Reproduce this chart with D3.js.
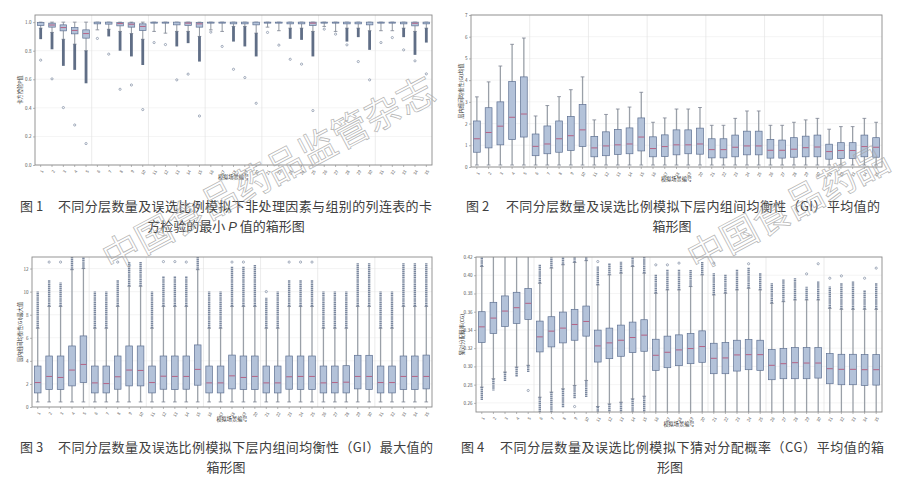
<!DOCTYPE html>
<html>
<head>
<meta charset="utf-8">
<script src="https://cdn.jsdelivr.net/npm/d3@7"></script>
<style>
  body { margin: 0; background: #fff; }
  svg { display: block; font-family: "Noto Sans CJK SC", "Noto Sans", sans-serif; }
</style>
</head>
<body>
<svg id="chart" width="918" height="486"></svg>
<script>
// scenario numbers on the x axis (7 stratification levels x 5 misselection ratios)
const scenarios = ['1','2','3','4','5','6','7','8','9','10','11','12','13','14','15','16','17','18',
  '19','20','21','22','23','24','25','26','27','28','29','30','31','32','33','34','35'];

// Fig 1: minimum P value of chi-square test
const p1Hi  = [1,1,1,1,1,1,1,1,1,1,1,1,1,1,1,1,1,1,1,1,1,1,1,1,1,1,1,1,1,1,1,1,1,1,1];
const p1Q3  = [0.997,0.993,0.981,0.963,0.946,1,1,0.998,0.995,0.988,1,1,1,1,0.998,1,1,1,1,1,1,1,1,1,1,1,1,1,1,1,1,1,1,1,1];
const p1Med = [0.99,0.98,0.962,0.942,0.92,0.996,0.995,0.99,0.985,0.97,0.997,0.997,0.995,0.993,0.988,0.998,0.997,0.996,0.996,0.993,
  0.998,0.998,0.996,0.996,0.993,0.998,0.998,0.996,0.996,0.995,0.998,0.998,0.996,0.992,0.996];
const p1Q1  = [0.977,0.965,0.939,0.918,0.888,0.988,0.986,0.974,0.965,0.941,0.993,0.993,0.981,0.977,0.965,0.993,0.993,0.988,0.988,0.981,
  0.993,0.993,0.988,0.988,0.977,0.993,0.993,0.988,0.988,0.981,0.993,0.993,0.988,0.974,0.988];
const p1Lo  = [0.958,0.928,0.88,0.846,0.8,0.946,0.95,0.935,0.92,0.88,0.935,0.923,0.935,0.935,0.9,0.946,0.935,0.97,0.97,0.923,
  0.965,0.94,0.958,0.958,0.935,0.97,0.935,0.958,0.958,0.94,0.94,0.94,0.958,0.935,0.958];
const p1LowDense = [0.881,0.81,0.694,0.666,0.572,null,0.9,0.8,0.76,0.7,null,null,0.83,0.853,0.724,null,null,0.864,0.83,0.76,
  null,null,0.883,0.876,0.76,null,null,0.864,0.895,0.806,null,null,0.895,0.771,0.857];
const p1Out = [0.734,0.603,0.402,0.28,0.15,0.886,0.776,0.53,0.56,0.388,0.857,0.843,0.596,0.636,0.343,0.93,0.83,0.67,0.612,0.432,
  0.928,0.839,0.74,0.706,0.381,0.951,0.916,0.841,0.724,0.596,0.857,0.892,0.806,0.729,0.638];

// Fig 2: mean GI
const p2Hi  = [3.23,3.92,4.65,5.65,5.94,2.35,2.83,3.24,3.56,4.15,2.17,2.42,2.67,2.76,3.44,2.06,2.26,2.67,2.67,2.74,
  1.92,1.92,2.24,2.58,2.58,1.92,1.92,2.06,2.17,2.24,1.74,1.86,1.86,2.24,2.06];
const p2Q3  = [2.12,2.73,3.0,3.94,4.15,1.52,1.89,2.12,2.33,2.88,1.41,1.62,1.73,1.8,2.26,1.39,1.48,1.71,1.71,1.79,
  1.3,1.3,1.47,1.65,1.65,1.27,1.24,1.35,1.42,1.47,1.05,1.12,1.12,1.47,1.35];
const p2Med = [1.3,1.59,1.88,2.29,2.44,0.95,1.06,1.3,1.44,1.71,0.88,0.97,1.02,1.06,1.38,0.85,0.94,1.02,1.02,1.06,
  0.8,0.8,0.91,0.97,0.97,0.77,0.77,0.82,0.89,0.92,0.71,0.76,0.76,0.94,0.91];
const p2Q1  = [0.68,0.88,1.02,1.26,1.38,0.52,0.61,0.68,0.76,0.94,0.47,0.52,0.58,0.61,0.74,0.47,0.48,0.56,0.61,0.59,
  0.42,0.42,0.47,0.56,0.56,0.41,0.41,0.45,0.47,0.47,0.36,0.39,0.39,0.47,0.45];
const p2Lo  = [0.09,0.09,0.09,0.09,0.09,0.09,0.09,0.09,0.09,0.09,0.09,0.09,0.09,0.09,0.09,0.09,0.09,0.09,0.09,0.09,
  0.09,0.09,0.09,0.09,0.09,0.09,0.09,0.09,0.09,0.09,0.09,0.09,0.09,0.09,0.09];

// Fig 3: maximum GI
const p3Hi  = [6.83,8.72,8.72,11.9,12.0,6.83,6.83,8.72,10.47,10.47,6.83,8.72,8.72,8.72,11.9,6.83,6.83,8.72,8.72,8.72,
  6.83,6.83,8.72,8.72,8.72,6.83,6.83,6.83,8.72,8.72,6.83,6.83,8.72,8.72,8.72];
const p3Q3  = [3.55,4.42,4.42,5.29,6.16,3.55,3.55,4.42,5.29,5.29,3.55,4.42,4.42,4.42,5.38,3.55,3.55,4.5,4.42,4.42,
  3.55,3.55,4.42,4.42,4.42,3.55,3.55,3.58,4.48,4.48,3.55,3.55,4.42,4.42,4.5];
const p3Med = [2.12,2.65,2.56,3.2,3.69,2.09,2.03,2.62,3.2,3.17,2.12,2.67,2.65,2.65,3.26,2.09,2.09,2.7,2.56,2.65,
  2.09,2.09,2.62,2.65,2.65,2.09,2.12,2.15,2.65,2.65,2.12,2.12,2.65,2.65,2.65];
const p3Q1  = [1.22,1.51,1.51,1.83,2.12,1.22,1.22,1.54,1.83,1.83,1.22,1.54,1.51,1.54,1.89,1.22,1.22,1.57,1.51,1.51,
  1.22,1.22,1.54,1.51,1.51,1.22,1.22,1.22,1.57,1.51,1.22,1.22,1.51,1.51,1.57];
const p3Lo  = [0.44,0.44,0.44,0.44,0.44,0.44,0.44,0.44,0.44,0.44,0.44,0.44,0.44,0.44,0.44,0.44,0.44,0.44,0.44,0.44,
  0.44,0.44,0.44,0.44,0.44,0.44,0.44,0.44,0.44,0.44,0.44,0.44,0.44,0.44,0.44];
const p3UpDense = [10.0,11.0,10.8,13.5,13.5,10.0,10.0,11.0,12.6,12.6,10.0,11.3,11.3,11.3,13.5,10.0,10.0,12.2,12.2,12.3,
  9.5,10.0,11.0,11.0,11.0,10.0,10.0,10.0,12.5,12.5,10.0,10.0,12.5,12.5,12.5];
const p3Out = [null,12.56,12.56,null,null,null,null,12.56,null,null,null,12.6,12.6,12.56,null,null,null,12.56,12.56,null,
  10.0,null,12.56,12.56,12.56,null,null,null,null,null,null,null,null,null,null];

// Fig 4: mean probability of correct guess (CG)
const p4Hi  = [0.4096,0.43,0.43,0.43,0.43,0.3912,0.4078,0.4115,0.414,0.416,0.3894,0.4004,0.4023,0.4096,0.4023,
  0.3802,0.3839,0.3839,0.3876,0.4004,0.3784,0.3802,0.3839,0.3857,0.3839,0.3692,0.371,0.3729,0.3729,0.3729,
  0.3637,0.3626,0.3626,0.3626,0.3626];
const p4Q3  = [0.36,0.3703,0.3773,0.3813,0.3854,0.3497,0.3545,0.3596,0.3626,0.3662,0.3398,0.342,0.3453,0.3486,0.3512,
  0.3298,0.3332,0.3346,0.3361,0.339,0.3254,0.3262,0.3287,0.3295,0.3287,0.3184,0.3196,0.3207,0.3207,0.3207,
  0.314,0.3133,0.3133,0.3129,0.3129];
const p4Med = [0.3434,0.353,0.3607,0.3644,0.3692,0.3324,0.3387,0.342,0.346,0.3493,0.3225,0.3258,0.3287,0.3317,0.3343,
  0.3122,0.3155,0.3181,0.3196,0.3218,0.3089,0.3093,0.3126,0.3129,0.3129,0.3012,0.303,0.3041,0.3037,0.3037,
  0.2975,0.2968,0.2968,0.2964,0.2964];
const p4Q1  = [0.3262,0.3361,0.3438,0.3471,0.3515,0.3159,0.3214,0.3258,0.3287,0.3332,0.3048,0.3085,0.3111,0.3151,0.3166,
  0.2957,0.2986,0.3008,0.303,0.3045,0.292,0.292,0.2949,0.2964,0.2957,0.2854,0.2865,0.2865,0.2865,0.2872,
  0.281,0.2799,0.2799,0.2791,0.2795];
const p4Lo  = [0.2773,0.2865,0.2938,0.2993,0.3012,0.2662,0.2718,0.2754,0.2791,0.2846,0.256,0.2589,0.2607,0.2644,0.2673,
  0.24,0.24,0.24,0.24,0.24,0.24,0.24,0.24,0.24,0.24,0.24,0.24,0.24,0.24,0.24,0.24,0.24,0.24,0.24,0.24];
const p4UpDense = [0.43,null,null,null,null,0.4114,0.43,0.43,0.43,0.43,0.4096,0.4133,0.4151,0.43,0.43,
  0.4004,0.406,0.406,0.406,0.4151,0.4023,0.4004,0.406,0.4085,0.4026,0.3912,0.3957,0.3968,0.3876,0.3931,
  0.3876,0.3912,0.393,0.3839,0.3912];
const p4LowDense = [0.2626,0.2736,0.2839,0.2883,0.2938,0.245,0.245,0.2552,0.2644,0.2662,0.245,0.245,0.245,0.245,0.245,
  null,null,null,null,null,null,null,null,null,null,null,null,null,null,null,null,null,null,null,null];
const p4Out = [null,null,null,null,0.2736,null,null,null,0.256,null,0.415,null,null,null,null,
  0.4114,0.4114,0.4133,null,null,0.4133,null,null,0.4126,null,null,null,null,0.4015,0.4126,
  0.3967,0.3993,null,0.3967,0.4078];

const svg = d3.select('#chart');
const W = 918, H = 486;

const BOX_FILL = '#b3c2d9';
const BOX_STROKE = '#5f7192';
const MEDIAN = '#b5587a';
const WHISKER = '#9aa0a8';

function drawBoxPanel(o) {
  const g = svg.append('g').attr('class', 'panel');
  const x = d3.scaleBand().domain(scenarios).range([o.left, o.right]);
  const y = d3.scaleLinear().domain(o.yDomain).range([o.bottom, o.top]);
  const bw = x.bandwidth();
  const cx = s => x(s) + bw / 2;
  const boxW = bw * 0.58;
  const capW = bw * 0.32;

  const clipId = 'clip-' + o.id;
  svg.append('clipPath').attr('id', clipId)
    .append('rect')
    .attr('x', o.left).attr('y', o.top)
    .attr('width', o.right - o.left).attr('height', o.bottom - o.top);

  // grid
  g.append('g').selectAll('line').data(o.yTicks).join('line')
    .attr('x1', o.left).attr('x2', o.right)
    .attr('y1', d => y(d)).attr('y2', d => y(d))
    .attr('stroke', '#ededed').attr('stroke-width', 0.6);
  g.append('g').selectAll('line')
    .data(scenarios.filter((d, i) => i > 0 && i % 5 === 0))
    .join('line')
    .attr('x1', d => x(d)).attr('x2', d => x(d))
    .attr('y1', o.top).attr('y2', o.bottom)
    .attr('stroke', '#e2e2e2').attr('stroke-width', 0.7);

  const rows = scenarios.map((s, i) => ({
    s,
    lo: o.lo[i], q1: o.q1[i], med: o.med[i], q3: o.q3[i], hi: o.hi[i],
    upDense: o.upDense ? o.upDense[i] : null,
    lowDense: o.lowDense ? o.lowDense[i] : null,
    out: o.out ? o.out[i] : null,
  }));

  const marks = g.append('g').attr('clip-path', `url(#${clipId})`);

  // whiskers
  marks.append('g').selectAll('line').data(rows).join('line')
    .attr('x1', d => cx(d.s)).attr('x2', d => cx(d.s))
    .attr('y1', d => y(d.hi)).attr('y2', d => y(d.lo))
    .attr('stroke', WHISKER).attr('stroke-width', o.whiskerWidth || 1.1);
  marks.append('g').selectAll('line').data(rows).join('line')
    .attr('x1', d => cx(d.s) - capW / 2).attr('x2', d => cx(d.s) + capW / 2)
    .attr('y1', d => y(d.hi)).attr('y2', d => y(d.hi))
    .attr('stroke', '#7b8290').attr('stroke-width', 0.8);
  marks.append('g').selectAll('line').data(rows).join('line')
    .attr('x1', d => cx(d.s) - capW / 2).attr('x2', d => cx(d.s) + capW / 2)
    .attr('y1', d => y(d.lo)).attr('y2', d => y(d.lo))
    .attr('stroke', '#7b8290').attr('stroke-width', 0.8);

  // piled-up outliers, drawn as a column
  const dense = rows.flatMap(d => {
    const r = [];
    if (d.upDense != null) r.push({ s: d.s, a: d.hi, b: d.upDense });
    if (d.lowDense != null) r.push({ s: d.s, a: d.lo, b: d.lowDense });
    return r;
  });
  marks.append('g').selectAll('line').data(dense).join('line')
    .attr('x1', d => cx(d.s)).attr('x2', d => cx(d.s))
    .attr('y1', d => y(d.a)).attr('y2', d => y(d.b))
    .attr('stroke', o.denseColor).attr('stroke-width', o.denseWidth || 2.4)
    .attr('stroke-dasharray', o.denseDash || null)
    .attr('opacity', 0.9);

  marks.append('g').selectAll('circle').data(rows.filter(d => d.out != null)).join('circle')
    .attr('cx', d => cx(d.s)).attr('cy', d => y(d.out)).attr('r', 1.1)
    .attr('fill', 'none').attr('stroke', '#6b7a93').attr('stroke-width', 0.6);

  // boxes
  marks.append('g').selectAll('rect').data(rows).join('rect')
    .attr('x', d => cx(d.s) - boxW / 2).attr('width', boxW)
    .attr('y', d => y(d.q3)).attr('height', d => Math.max(0.8, y(d.q1) - y(d.q3)))
    .attr('fill', BOX_FILL).attr('stroke', BOX_STROKE).attr('stroke-width', 0.7);
  // medians are only visible where the box is tall enough
  marks.append('g').selectAll('line').data(rows.filter(d => y(d.q1) - y(d.q3) > 3)).join('line')
    .attr('x1', d => cx(d.s) - boxW / 2 + 0.4).attr('x2', d => cx(d.s) + boxW / 2 - 0.4)
    .attr('y1', d => y(d.med)).attr('y2', d => y(d.med))
    .attr('stroke', MEDIAN).attr('stroke-width', 0.9);

  // axes
  const ya = g.append('g').attr('transform', `translate(${o.left},0)`)
    .call(d3.axisLeft(y).tickValues(o.yTicks).tickFormat(o.fmt).tickSize(2).tickPadding(1.5));
  ya.attr('font-size', 4.6).attr('font-family', null);
  ya.select('.domain').remove();
  ya.selectAll('line').attr('stroke', '#888').attr('stroke-width', 0.6);
  ya.selectAll('text').attr('fill', '#555');

  const xa = g.append('g').attr('transform', `translate(0,${o.bottom})`)
    .call(d3.axisBottom(x).tickSize(2).tickPadding(1));
  xa.attr('font-size', 4.2).attr('font-family', null);
  xa.select('.domain').remove();
  xa.selectAll('line').attr('stroke', '#888').attr('stroke-width', 0.6);
  xa.selectAll('text').attr('fill', '#555')
    .attr('text-anchor', 'end')
    .attr('dy', '0.3em').attr('dx', '-0.3em')
    .attr('transform', 'translate(0,3) rotate(-60)');

  // frame
  g.append('rect')
    .attr('x', o.left).attr('y', o.top)
    .attr('width', o.right - o.left).attr('height', o.bottom - o.top)
    .attr('fill', 'none').attr('stroke', '#8a8a8a').attr('stroke-width', 0.9);

  // titles
  g.append('text')
    .attr('x', (o.left + o.right) / 2).attr('y', o.bottom + 14)
    .attr('text-anchor', 'middle').attr('font-size', 5.2).attr('fill', '#333')
    .text('模拟场景编号');
  g.append('text')
    .attr('transform', `translate(${o.yTitleX},${(o.top + o.bottom) / 2}) rotate(-90)`)
    .attr('text-anchor', 'middle').attr('font-size', 5.2).attr('fill', '#333')
    .text(o.yTitle);
}

drawBoxPanel({
  id: 'p1', left: 35, right: 432, top: 15, bottom: 165,
  yDomain: [0, 1.05], yTicks: [0, 0.2, 0.4, 0.6, 0.8, 1.0], fmt: d3.format('.1f'),
  hi: p1Hi, q3: p1Q3, med: p1Med, q1: p1Q1, lo: p1Lo, lowDense: p1LowDense, out: p1Out,
  denseColor: '#4f5f7a', denseWidth: 2.8, yTitle: '卡方检验P值', yTitleX: 22,
});

drawBoxPanel({
  id: 'p2', left: 471, right: 882, top: 15, bottom: 167,
  yDomain: [0, 7], yTicks: [0, 1, 2, 3, 4, 5, 6, 7], fmt: d3.format('d'),
  hi: p2Hi, q3: p2Q3, med: p2Med, q1: p2Q1, lo: p2Lo,
  denseColor: '#56667f', yTitle: '层内组间均衡性(GI)均值', yTitleX: 463, whiskerWidth: 1.3,
});

drawBoxPanel({
  id: 'p3', left: 32, right: 432, top: 257, bottom: 407,
  yDomain: [0, 13], yTicks: [0, 2, 4, 6, 8, 10, 12], fmt: d3.format('d'),
  hi: p3Hi, q3: p3Q3, med: p3Med, q1: p3Q1, lo: p3Lo, upDense: p3UpDense, out: p3Out,
  denseColor: '#6d7c95', denseDash: '1.4,0.5', yTitle: '层内组间均衡性(GI)最大值', yTitleX: 22, whiskerWidth: 1.3,
});

drawBoxPanel({
  id: 'p4', left: 476, right: 882, top: 257, bottom: 412,
  yDomain: [0.25, 0.42], yTicks: [0.26, 0.28, 0.30, 0.32, 0.34, 0.36, 0.38, 0.40, 0.42], fmt: d3.format('.2f'),
  hi: p4Hi, q3: p4Q3, med: p4Med, q1: p4Q1, lo: p4Lo, upDense: p4UpDense, lowDense: p4LowDense, out: p4Out,
  denseColor: '#6d7c95', denseDash: '1.4,0.5', yTitle: '猜对分配概率(CG)', yTitleX: 464, whiskerWidth: 1.3,
});

// figure captions
const captions = [
  { num: '图 1', x: 20, x1: 58, x2: 432, y: 211, line1: '不同分层数量及误选比例模拟下非处理因素与组别的列连表的卡',
    line2: ['方检验的最小 ', 'P', ' 值的箱形图'], cx: 226 },
  { num: '图 2', x: 466, x1: 506, x2: 880, y: 211, line1: '不同分层数量及误选比例模拟下层内组间均衡性（GI）平均值的',
    line2: ['箱形图'], cx: 672 },
  { num: '图 3', x: 20, x1: 58, x2: 433, y: 452, line1: '不同分层数量及误选比例模拟下层内组间均衡性（GI）最大值的',
    line2: ['箱形图'], cx: 226 },
  { num: '图 4', x: 461, x1: 500, x2: 884, y: 452, line1: '不同分层数量及误选比例模拟下猜对分配概率（CG）平均值的箱',
    line2: ['形图'], cx: 670 },
];

const cap = svg.append('g').attr('font-size', 13).attr('fill', '#404040');
captions.forEach(c => {
  cap.append('text').attr('x', c.x).attr('y', c.y).text(c.num);
  cap.append('text').attr('x', c.x1).attr('y', c.y)
    .attr('textLength', c.x2 - c.x1).attr('lengthAdjust', 'spacing')
    .text(c.line1);
  const t = cap.append('text').attr('x', c.cx).attr('y', c.y + 20).attr('text-anchor', 'middle');
  c.line2.forEach(part => {
    const ts = t.append('tspan').text(part);
    if (part === 'P') ts.attr('font-style', 'italic').attr('font-family', 'Liberation Sans, sans-serif');
  });
});

// journal watermark, one glyph per text so glyphs running off the page can be dropped
const watermarkText = '中国食品药品监管杂志';
const watermarks = [[104, 258], [689, 258], [113, 625], [698, 625]];
const wmSize = 37;
const wmGlyphs = watermarks.flatMap(p => Array.from(watermarkText).map((ch, i) => ({ p, ch, i })));
const wm = svg.append('g').selectAll('text').data(wmGlyphs).join('text')
  .attr('transform', d => `translate(${d.p[0]},${d.p[1]}) rotate(-28)`)
  .attr('x', d => d.i * wmSize)
  .attr('dominant-baseline', 'central')
  .attr('font-size', wmSize)
  .attr('fill', 'none')
  .attr('stroke', '#a6a6a6')
  .attr('stroke-width', 0.7)
  .attr('opacity', 0.85)
  .text(d => d.ch);
wm.each(function () {
  const b = this.getBoundingClientRect();
  if (b.left < 0 || b.top < 0 || b.right > W || b.bottom > H) d3.select(this).remove();
});
</script>
</body>
</html>
